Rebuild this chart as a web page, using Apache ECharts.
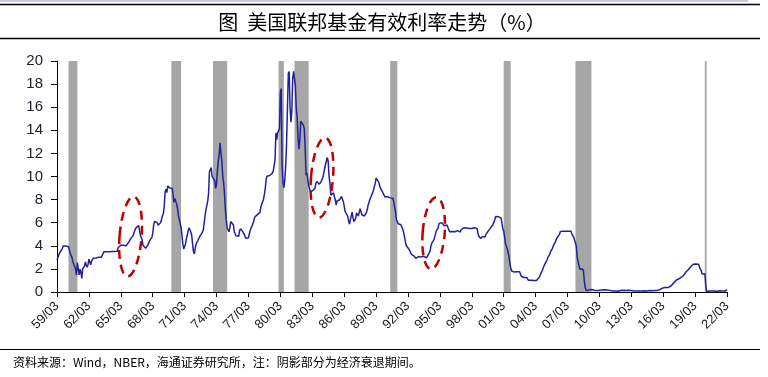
<!DOCTYPE html>
<html>
<head>
<meta charset="utf-8">
<title>美国联邦基金有效利率走势</title>
<script src="https://cdn.jsdelivr.net/npm/echarts@6.0.0/dist/echarts.min.js"></script>
<style>
  html, body { margin: 0; padding: 0; background: #fff; }
  #chart { width: 768px; height: 377px; }
</style>
</head>
<body>
<div id="chart"></div>
<script>
// monthly effective fed funds rate, first value = 1959/03
const startYear = 1959
const startMonth = 3

const rates1959 = [2.80, 2.96, 2.90, 3.39, 3.47, 3.50, 3.76, 3.98, 4.00, 3.99]
const rates1960s = [
  3.99, 3.97, 3.84, 3.92, 3.85, 3.32, 3.23, 2.98, 2.60, 2.47, 2.44, 1.98,
  1.45, 2.54, 2.02, 1.49, 1.98, 1.73, 1.17, 2.00, 1.88, 2.26, 2.61, 2.33,
  2.15, 2.37, 2.85, 2.78, 2.36, 2.68, 2.71, 2.93, 2.90, 2.90, 2.94, 2.93,
  2.92, 3.00, 2.98, 2.90, 3.00, 2.99, 3.02, 3.49, 3.48, 3.50, 3.48, 3.38,
  3.48, 3.48, 3.43, 3.47, 3.50, 3.50, 3.42, 3.50, 3.45, 3.36, 3.52, 3.85,
  3.90, 3.98, 4.04, 4.09, 4.10, 4.04, 4.09, 4.12, 4.01, 4.08, 4.10, 4.32,
  4.42, 4.60, 4.65, 4.67, 4.90, 5.17, 5.30, 5.53, 5.40, 5.53, 5.76, 5.40,
  4.94, 5.00, 4.53, 4.05, 3.94, 3.98, 3.79, 3.90, 3.99, 3.88, 4.13, 4.51,
  4.60, 4.71, 5.05, 5.76, 6.11, 6.07, 6.02, 6.03, 5.78, 5.91, 5.82, 6.02,
  6.30, 6.61, 6.79, 7.41, 8.67, 8.90, 8.61, 9.19, 9.15, 9.00, 8.85, 8.97
]
const rates1970s = [
  8.98, 8.98, 7.76, 8.10, 7.95, 7.61, 7.21, 6.61, 6.29, 6.20, 5.60, 4.90,
  4.14, 3.72, 3.71, 4.16, 4.63, 4.91, 5.31, 5.56, 5.55, 5.20, 4.91, 4.14,
  3.50, 3.29, 3.83, 4.17, 4.27, 4.46, 4.55, 4.80, 4.87, 5.04, 5.06, 5.33,
  5.94, 6.58, 7.09, 7.12, 7.84, 8.49, 10.40, 10.50, 10.78, 10.01, 10.03, 9.95,
  9.65, 8.97, 9.35, 10.51, 11.31, 11.93, 12.92, 12.01, 11.34, 10.06, 9.45, 8.53,
  7.13, 6.24, 5.54, 5.49, 5.22, 5.55, 6.10, 6.14, 6.24, 5.82, 5.22, 5.20,
  4.87, 4.77, 4.84, 4.82, 5.29, 5.48, 5.31, 5.29, 5.25, 5.03, 4.95, 4.65,
  4.61, 4.68, 4.69, 4.73, 5.35, 5.39, 5.42, 5.90, 6.14, 6.47, 6.51, 6.56,
  6.70, 6.78, 6.79, 6.89, 7.36, 7.60, 7.81, 8.04, 8.45, 8.96, 9.76, 10.03,
  10.07, 10.06, 10.09, 10.01, 10.24, 10.29, 10.47, 10.94, 11.43, 13.77, 13.18, 13.78
]
const rates1980s = [
  13.82, 14.13, 17.19, 17.61, 10.98, 9.47, 9.03, 9.61, 10.87, 12.81, 15.85, 18.90,
  19.08, 15.93, 14.70, 15.72, 18.52, 19.10, 19.04, 17.82, 15.87, 15.08, 13.31, 12.37,
  13.22, 14.78, 14.68, 14.94, 14.45, 14.15, 12.59, 10.12, 10.31, 9.71, 9.20, 8.95,
  8.68, 8.51, 8.77, 8.80, 8.63, 8.98, 9.37, 9.56, 9.45, 9.48, 9.34, 9.47,
  9.56, 9.59, 9.91, 10.29, 10.32, 11.06, 11.23, 11.64, 11.30, 9.99, 9.43, 8.38,
  8.35, 8.50, 8.58, 8.27, 7.97, 7.53, 7.88, 7.90, 7.92, 7.99, 8.05, 8.27,
  8.14, 7.86, 7.48, 6.99, 6.85, 6.92, 6.56, 6.17, 5.89, 5.85, 6.04, 6.91,
  6.43, 6.10, 6.13, 6.37, 6.85, 6.73, 6.58, 6.73, 7.22, 7.29, 6.69, 6.77,
  6.83, 6.58, 6.58, 6.87, 7.09, 7.51, 7.75, 8.01, 8.19, 8.30, 8.35, 8.76,
  9.12, 9.36, 9.85, 9.84, 9.81, 9.53, 9.24, 8.99, 9.02, 8.84, 8.55, 8.45
]
const rates1990s = [
  8.23, 8.24, 8.28, 8.26, 8.18, 8.29, 8.15, 8.13, 8.20, 8.11, 7.81, 7.31,
  6.91, 6.25, 6.12, 5.91, 5.78, 5.90, 5.82, 5.66, 5.45, 5.21, 4.81, 4.43,
  4.03, 4.06, 3.98, 3.73, 3.82, 3.76, 3.25, 3.30, 3.22, 3.10, 3.09, 2.92,
  3.02, 3.03, 3.07, 2.96, 3.00, 3.04, 3.06, 3.03, 3.09, 2.99, 3.02, 2.96,
  3.05, 3.25, 3.34, 3.56, 4.01, 4.25, 4.26, 4.47, 4.73, 4.76, 5.29, 5.45,
  5.53, 5.92, 5.98, 6.05, 6.01, 6.00, 5.85, 5.74, 5.80, 5.76, 5.80, 5.60,
  5.56, 5.22, 5.31, 5.22, 5.24, 5.27, 5.40, 5.22, 5.30, 5.24, 5.31, 5.29,
  5.25, 5.19, 5.39, 5.51, 5.50, 5.56, 5.52, 5.54, 5.54, 5.50, 5.52, 5.50,
  5.56, 5.51, 5.49, 5.45, 5.49, 5.56, 5.54, 5.55, 5.51, 5.07, 4.83, 4.68,
  4.63, 4.76, 4.81, 4.74, 4.74, 4.76, 4.99, 5.07, 5.22, 5.20, 5.42, 5.30
]
const rates2000s = [
  5.45, 5.73, 5.85, 6.02, 6.27, 6.53, 6.54, 6.50, 6.52, 6.51, 6.51, 6.40,
  5.98, 5.49, 5.31, 4.80, 4.21, 3.97, 3.77, 3.65, 3.07, 2.49, 2.09, 1.82,
  1.73, 1.74, 1.73, 1.75, 1.75, 1.75, 1.73, 1.74, 1.75, 1.75, 1.34, 1.24,
  1.24, 1.26, 1.25, 1.26, 1.26, 1.22, 1.01, 1.03, 1.01, 1.01, 1.00, 0.98,
  1.00, 1.01, 1.00, 1.00, 1.00, 1.03, 1.26, 1.43, 1.61, 1.76, 1.93, 2.16,
  2.28, 2.50, 2.63, 2.79, 3.00, 3.04, 3.26, 3.50, 3.62, 3.78, 4.00, 4.16,
  4.29, 4.49, 4.59, 4.79, 4.94, 4.99, 5.24, 5.25, 5.25, 5.25, 5.25, 5.24,
  5.25, 5.26, 5.26, 5.25, 5.25, 5.25, 5.26, 5.02, 4.94, 4.76, 4.49, 4.24,
  3.94, 2.98, 2.61, 2.28, 1.98, 2.00, 2.01, 2.00, 1.81, 0.97, 0.39, 0.16,
  0.15, 0.22, 0.18, 0.15, 0.18, 0.21, 0.16, 0.16, 0.15, 0.12, 0.12, 0.12
]
const rates2010s = [
  0.11, 0.13, 0.16, 0.20, 0.20, 0.18, 0.18, 0.19, 0.19, 0.19, 0.19, 0.18,
  0.17, 0.16, 0.14, 0.10, 0.09, 0.09, 0.07, 0.10, 0.08, 0.07, 0.08, 0.07,
  0.08, 0.10, 0.13, 0.14, 0.16, 0.16, 0.16, 0.13, 0.14, 0.16, 0.16, 0.16,
  0.14, 0.15, 0.14, 0.15, 0.11, 0.09, 0.09, 0.08, 0.08, 0.09, 0.08, 0.09,
  0.07, 0.07, 0.08, 0.09, 0.09, 0.10, 0.09, 0.09, 0.09, 0.09, 0.09, 0.12,
  0.11, 0.11, 0.11, 0.12, 0.12, 0.13, 0.13, 0.14, 0.14, 0.12, 0.12, 0.24,
  0.34, 0.38, 0.36, 0.37, 0.37, 0.38, 0.39, 0.40, 0.40, 0.40, 0.41, 0.54,
  0.65, 0.66, 0.79, 0.90, 0.91, 1.04, 1.15, 1.16, 1.15, 1.15, 1.16, 1.30,
  1.41, 1.42, 1.51, 1.69, 1.70, 1.82, 1.91, 1.91, 1.95, 2.19, 2.20, 2.27,
  2.40, 2.40, 2.41, 2.42, 2.39, 2.38, 2.40, 2.13, 2.04, 1.83, 1.55, 1.55
]
const rates2020s = [
  1.55, 1.58, 0.65, 0.05, 0.05, 0.08, 0.09, 0.10, 0.09, 0.09, 0.09, 0.09,
  0.09, 0.08, 0.07, 0.07, 0.06, 0.08, 0.10, 0.09, 0.08, 0.08, 0.08, 0.08,
  0.08, 0.08, 0.20
]

// NBER recessions (peak, trough)
const recessions = [
  ['1960-04', '1961-02'],
  ['1969-12', '1970-11'],
  ['1973-11', '1975-03'],
  ['1980-01', '1980-07'],
  ['1981-07', '1982-11'],
  ['1990-07', '1991-03'],
  ['2001-03', '2001-11'],
  ['2007-12', '2009-06'],
  ['2020-02', '2020-04']
]

// red dashed circles drawn around these spots
const highlights = [
  ['1966-02', 4.8],
  ['1984-02', 9.9],
  ['1994-08', 5.1]
]

const yTicks = { min: 0, max: 20, step: 2 }

const titleText = '图  美国联邦基金有效利率走势（%）'
const sourceText = '资料来源：Wind，NBER，海通证券研究所，注：阴影部分为经济衰退期间。'


function monthIndex(ym) {
  const [y, m] = ym.split('-').map(Number)
  return (y - startYear) * 12 + (m - startMonth)
}

const rates = [].concat(rates1959, rates1960s, rates1970s, rates1980s, rates1990s, rates2000s, rates2010s, rates2020s)
const lineData = rates.map((v, i) => [i, v])
const lastIndex = rates.length - 1

const chart = echarts.init(document.getElementById('chart'), null, { renderer: 'canvas' })

const cjk = '"Noto Sans CJK SC", "Noto Sans", sans-serif'
const latin = '"Liberation Sans", Arial, sans-serif'

chart.setOption({
  animation: false,
  backgroundColor: '#fff',
  grid: { left: 57, right: 41, top: 61, bottom: 85 },
  xAxis: {
    type: 'value',
    min: 0,
    max: lastIndex,
    interval: 36,
    splitLine: { show: false },
    axisLine: { lineStyle: { color: '#000', width: 1 } },
    axisTick: { length: 5, lineStyle: { color: '#000' } },
    axisLabel: {
      rotate: 45,
      margin: 12,
      fontFamily: latin,
      fontSize: 13,
      color: '#1a1a1a',
      formatter: (v) => {
        const yr = startYear + Math.round(v / 12)
        return String(yr % 100).padStart(2, '0') + '/03'
      }
    }
  },
  yAxis: {
    type: 'value',
    min: yTicks.min,
    max: yTicks.max,
    interval: yTicks.step,
    splitLine: { show: false },
    axisLine: { show: true, lineStyle: { color: '#000', width: 1 } },
    axisTick: { show: true, length: 6, lineStyle: { color: '#000' } },
    axisLabel: {
      margin: 14,
      fontFamily: latin,
      fontSize: 15,
      color: '#1e1e2e'
    }
  },
  series: [
    {
      type: 'line',
      data: [],
      z: 1,
      silent: true,
      markArea: {
        silent: true,
        itemStyle: { color: '#a6a6a6' },
        data: recessions.map(([a, b]) => [{ xAxis: monthIndex(a) }, { xAxis: monthIndex(b) }])
      }
    },
    {
      type: 'line',
      data: lineData,
      z: 3,
      symbol: 'none',
      lineStyle: { color: '#21219c', width: 1.5 }
    }
  ]
})

const ellipses = highlights.map(([ym, v], i) => {
  const [cx, cy] = chart.convertToPixel({ xAxisIndex: 0, yAxisIndex: 0 }, [monthIndex(ym), v])
  return {
    type: 'ellipse',
    z: 10,
    x: cx,
    y: cy,
    rotation: -0.08,
    shape: { cx: 0, cy: 0, rx: 11, ry: i === 2 ? 36 : 40 },
    style: { fill: 'none', stroke: '#c00000', lineWidth: 2.5, lineDash: [9, 6] }
  }
})

chart.setOption({
  graphic: [
    { type: 'rect', shape: { x: 0, y: 0, width: 748, height: 2 }, style: { fill: '#c9c9e4' } },
    { type: 'line', shape: { x1: 0, y1: 4.5, x2: 760, y2: 4.5 }, style: { stroke: '#000', lineWidth: 1.5 } },
    { type: 'line', shape: { x1: 0, y1: 38.5, x2: 760, y2: 38.5 }, style: { stroke: '#000', lineWidth: 1.5 } },
    {
      type: 'text', x: 382, y: 22,
      style: { text: titleText, fontFamily: cjk, fontSize: 20, fontWeight: 'normal', fill: '#000', align: 'center', verticalAlign: 'middle' }
    },
    { type: 'line', shape: { x1: 0, y1: 349.5, x2: 760, y2: 349.5 }, style: { stroke: '#000', lineWidth: 1 } },
    {
      type: 'text', x: 13, y: 362,
      style: { text: sourceText, fontFamily: cjk, fontSize: 12, fill: '#000', align: 'left', verticalAlign: 'middle' }
    },
    ...ellipses
  ]
})
</script>
</body>
</html>
